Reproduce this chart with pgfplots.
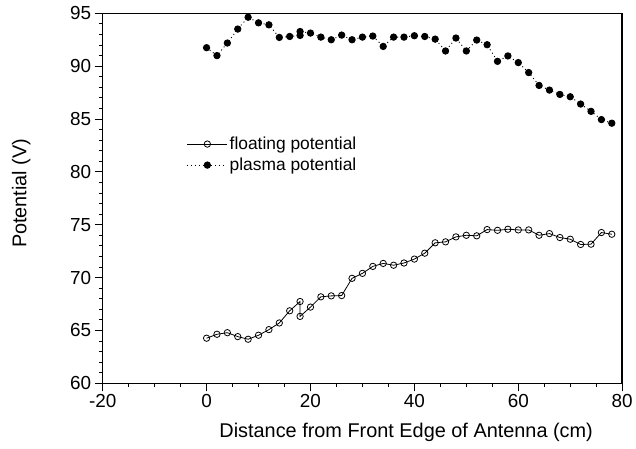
\documentclass[border=0pt]{standalone}
\usepackage{pgfplots}
\pgfplotsset{compat=1.18}
\usepackage{fontspec}
\setmainfont{Liberation Sans}

\pgfplotstableread{
x y
0 64.27
2 64.64
4 64.79
6 64.42
8 64.17
10 64.55
12 65.08
14 65.71
16 66.86
18 67.74
18 66.33
20 67.21
22 68.18
24 68.27
26 68.30
28 69.93
30 70.40
32 71.06
34 71.34
36 71.17
38 71.38
40 71.75
42 72.31
44 73.29
46 73.38
48 73.85
50 74.00
52 73.95
54 74.54
56 74.47
58 74.57
60 74.51
62 74.51
64 74.00
66 74.16
68 73.79
70 73.63
72 73.13
74 73.16
76 74.26
78 74.10
}\floating

\pgfplotstableread{
x y
0 91.74
2 90.99
4 92.18
6 93.50
8 94.62
10 94.09
12 93.90
14 92.71
16 92.80
18 92.90
18 93.27
20 93.12
22 92.74
24 92.49
26 92.93
28 92.49
30 92.74
32 92.84
34 91.86
36 92.74
38 92.74
40 92.87
42 92.80
44 92.55
46 91.43
48 92.65
50 91.43
52 92.46
54 92.02
56 90.45
58 90.96
60 90.33
62 89.39
64 88.17
66 87.73
68 87.32
70 87.10
72 86.41
74 85.72
76 84.94
78 84.60
}\plasma

\begin{document}
\begin{tikzpicture}
\begin{axis}[
  scale only axis,
  width=522.7pt, height=372.4pt,
  xmin=-20, xmax=80, ymin=60, ymax=95,
  xtick={-20,0,20,40,60,80},
  ytick={60,65,70,75,80,85,90,95},
  minor x tick num=3, minor y tick num=4,
  tick align=outside, xtick pos=bottom, ytick pos=left,
  major tick length=8pt, minor tick length=4pt,
  axis line style={line width=0.8pt},
  every tick/.style={black, line width=0.8pt},
  font=\fontsize{20}{24}\selectfont,
  ticklabel style={font=\fontsize{19}{23}\selectfont},
  /pgf/number format/assume math mode=true,
  xlabel={Distance from Front Edge of Antenna (cm)},
  ylabel={Potential (V)},
  xlabel style={yshift=-8pt, xshift=44pt},
  ylabel style={yshift=33pt, xshift=5pt},
  legend style={at={(axis cs:-3.8,83.5)}, anchor=north west, draw=none, fill=none, inner sep=0pt,
    font=\fontsize{17.5}{21}\selectfont, row sep=3pt},
  legend cell align=left,
  legend image code/.code={\draw[mark repeat=2,mark phase=2,#1] plot coordinates {(0pt,0pt) (20pt,0pt) (40pt,0pt)};},
]
\addplot[black, line width=0.8pt, mark=o, mark size=3.2pt, mark options={solid, fill=white, line width=0.8pt}] table[x=x,y=y] {\floating};
\addlegendentry{floating potential}
\addplot[black, line width=0.9pt, dash pattern=on 1pt off 3pt, mark=*, mark size=3.2pt, mark options={solid}] table[x=x,y=y] {\plasma};
\addlegendentry{plasma potential}
\end{axis}
\draw[line width=1.6pt] (current axis.south east) -- (current axis.north east);
\path (current axis.south west) ++(-103.3pt,-65.3pt);
\path (current axis.north east) ++(10pt,13.3pt);
\end{tikzpicture}
\end{document}
